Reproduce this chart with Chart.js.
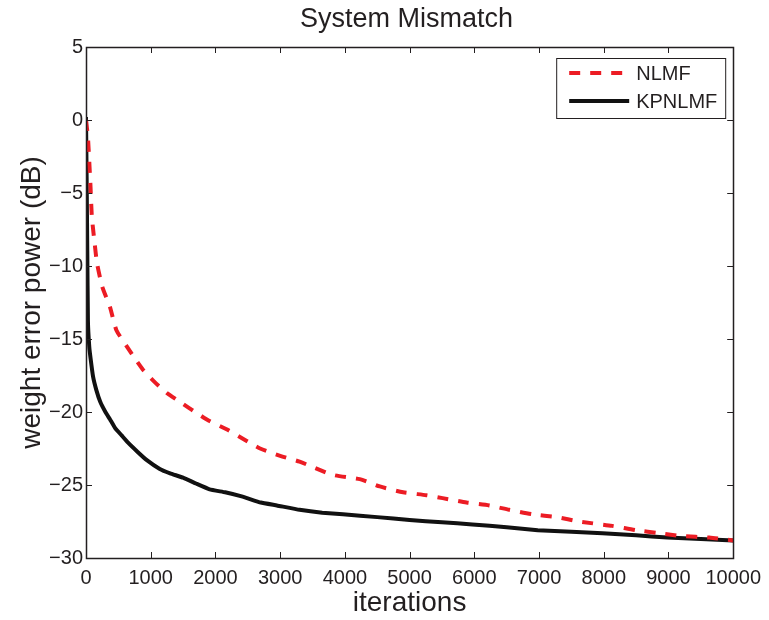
<!DOCTYPE html>
<html>
<head>
<meta charset="utf-8">
<script src="https://cdn.jsdelivr.net/npm/chart.js@4/dist/chart.umd.min.js"></script>
<style>
  html, body { margin: 0; padding: 0; background: #fff; }
  #wrap { width: 769px; height: 620px; }
</style>
</head>
<body>
<div id="wrap"><canvas id="mismatch"></canvas></div>
<script>
// values
const titleText = 'System Mismatch';
const seriesNames = ['NLMF', 'KPNLMF'];
const xTicks = [0, 1000, 2000, 3000, 4000, 5000, 6000, 7000, 8000, 9000, 10000];
const yTicks = [-30, -25, -20, -15, -10, -5, 0, 5];

const nlmfIter = [0, 30, 50, 70, 90, 130, 170, 250, 370, 470, 630, 750, 880, 1050, 1250, 1450, 1650, 1900, 2180, 2450, 2690, 3000, 3300, 3810, 4230, 4540, 4900, 5260, 5510, 5880, 6230, 6540, 6900, 7270, 7620, 8130, 8500, 8860, 9210, 9630, 10000];
const nlmfDb = [0, -1.2, -2.8, -4.6, -6.6, -8.3, -9.8, -11.4, -12.8, -14.4, -15.5, -16.3, -17.1, -17.9, -18.7, -19.3, -19.9, -20.6, -21.2, -21.9, -22.5, -23.0, -23.4, -24.3, -24.6, -25.1, -25.5, -25.7, -25.9, -26.2, -26.4, -26.7, -27.0, -27.2, -27.5, -27.8, -28.1, -28.3, -28.5, -28.6, -28.8];

const kpIter = [0, 10, 20, 30, 50, 70, 110, 160, 220, 300, 370, 450, 550, 650, 790, 940, 1140, 1300, 1500, 1700, 1910, 2150, 2420, 2700, 2950, 3300, 3650, 3970, 4500, 5000, 5500, 5970, 6500, 6980, 7500, 7980, 8500, 8980, 9500, 10000];
const kpDb = [0.2, -4, -9, -13.8, -15.5, -16.3, -17.6, -18.5, -19.3, -20.0, -20.5, -21.1, -21.6, -22.1, -22.7, -23.3, -23.9, -24.2, -24.5, -24.9, -25.3, -25.5, -25.8, -26.2, -26.4, -26.7, -26.9, -27.0, -27.2, -27.4, -27.55, -27.7, -27.9, -28.1, -28.2, -28.3, -28.45, -28.6, -28.7, -28.8];

const ink = '#231f20';
const red = '#ec1c24';
const font = "'Liberation Sans', Arial, Helvetica, sans-serif";

const pairs = (xs, ys) => xs.map((x, i) => ({ x: x, y: ys[i] }));

// MATLAB style frame: box, inward ticks on all sides, title, legend
const matlabFrame = {
    id: 'matlabFrame',
    afterDatasetsDraw(chart) {
        const { ctx, chartArea: a, scales } = chart;
        const tl = 6;
        ctx.save();
        ctx.strokeStyle = ink;
        ctx.lineWidth = 1;
        ctx.beginPath();
        xTicks.forEach(v => {
            const px = Math.round(scales.x.getPixelForValue(v)) + 0.5;
            ctx.moveTo(px, a.bottom); ctx.lineTo(px, a.bottom - tl);
            ctx.moveTo(px, a.top); ctx.lineTo(px, a.top + tl);
        });
        yTicks.forEach(v => {
            const py = Math.round(scales.y.getPixelForValue(v)) + 0.5;
            ctx.moveTo(a.left, py); ctx.lineTo(a.left + tl, py);
            ctx.moveTo(a.right, py); ctx.lineTo(a.right - tl, py);
        });
        ctx.stroke();
        ctx.lineWidth = 1.5;
        ctx.strokeRect(Math.round(a.left) + 0.5, Math.round(a.top) + 0.5,
            Math.round(a.right - a.left), Math.round(a.bottom - a.top));

        // legend
        const bw = 169, bh = 60;
        const bx = a.right - 8 - bw, by = a.top + 11;
        ctx.fillStyle = '#fff';
        ctx.fillRect(bx, by, bw, bh);
        ctx.lineWidth = 1;
        ctx.strokeRect(bx + 0.5, by + 0.5, bw, bh);
        chart.data.datasets.forEach((ds, i) => {
            const ly = by + 15 + i * 28;
            ctx.beginPath();
            ctx.setLineDash(ds.borderDash || []);
            ctx.strokeStyle = ds.borderColor;
            ctx.lineWidth = ds.borderWidth;
            ctx.moveTo(bx + 13, ly);
            ctx.lineTo(bx + 73, ly);
            ctx.stroke();
            ctx.setLineDash([]);
            ctx.fillStyle = ink;
            ctx.font = '20px ' + font;
            ctx.textBaseline = 'middle';
            ctx.textAlign = 'left';
            ctx.fillText(ds.label, bx + 80, ly + 1);
        });

        // title centred on the plot area
        ctx.fillStyle = ink;
        ctx.font = '27px ' + font;
        ctx.textAlign = 'center';
        ctx.textBaseline = 'middle';
        ctx.fillText(titleText, (a.left + a.right) / 2 - 3, 20);
        ctx.restore();
    }
};

new Chart(document.getElementById('mismatch'), {
    type: 'line',
    data: {
        datasets: [
            {
                label: seriesNames[0],
                data: pairs(nlmfIter, nlmfDb),
                borderColor: red,
                borderWidth: 4,
                borderDash: [11, 10],
                pointRadius: 0,
                tension: 0.2,
                fill: false,
            },
            {
                label: seriesNames[1],
                data: pairs(kpIter, kpDb),
                borderColor: '#111',
                borderWidth: 4,
                pointRadius: 0,
                tension: 0.1,
                fill: false,
            },
        ],
    },
    options: {
        responsive: true,
        maintainAspectRatio: false,
        animation: false,
        events: [],
        layout: { padding: { top: 47, right: 35, left: 0, bottom: 0 } },
        plugins: {
            legend: { display: false },
            tooltip: { enabled: false },
            title: { display: false },
        },
        scales: {
            x: {
                type: 'linear',
                min: 0,
                max: 10000,
                afterBuildTicks: s => { s.ticks = xTicks.map(v => ({ value: v })); },
                afterFit: s => { s.height = 62; },
                grid: { display: false, drawTicks: false },
                border: { display: false },
                ticks: {
                    color: ink,
                    padding: 8,
                    maxRotation: 0,
                    font: { family: font, size: 20 },
                    callback: v => String(v),
                },
                title: {
                    display: true,
                    text: 'iterations',
                    color: ink,
                    font: { family: font, size: 28 },
                    padding: { top: 0, bottom: 0 },
                },
            },
            y: {
                min: -30,
                max: 5,
                afterBuildTicks: s => { s.ticks = yTicks.map(v => ({ value: v })); },
                afterFit: s => { s.width = 86; },
                grid: { display: false, drawTicks: false },
                border: { display: false },
                ticks: {
                    color: ink,
                    padding: 3,
                    font: { family: font, size: 20 },
                    callback: v => String(v).replace('-', '\u2212'),
                },
                title: {
                    display: true,
                    text: 'weight error power (dB)',
                    color: ink,
                    font: { family: font, size: 28 },
                    padding: { top: 15, bottom: 0 },
                },
            },
        },
    },
    plugins: [matlabFrame],
});
</script>
</body>
</html>
